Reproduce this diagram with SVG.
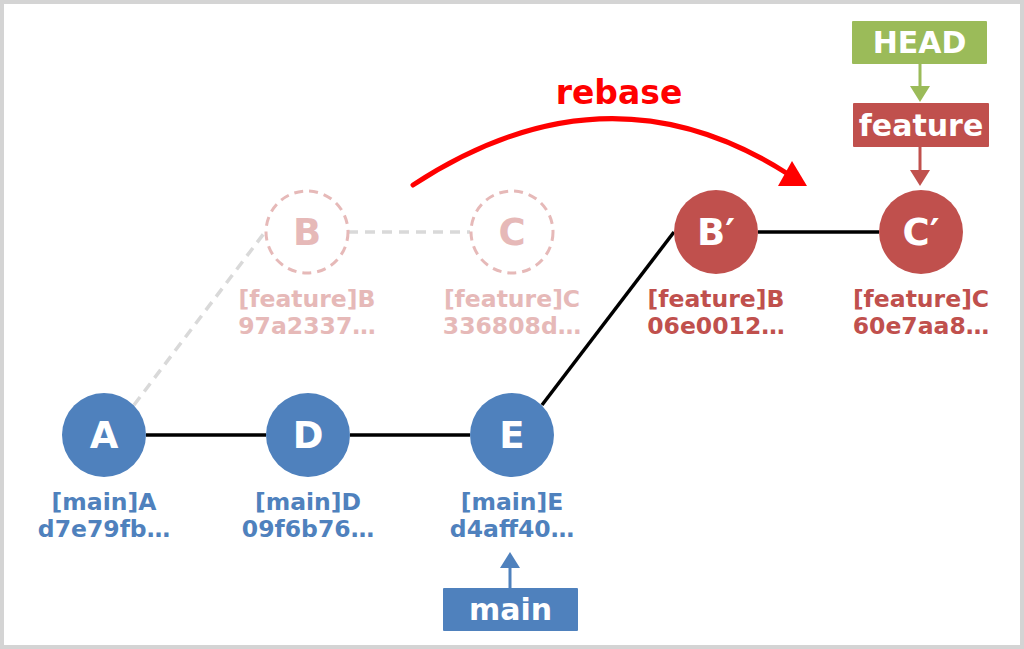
<svg xmlns="http://www.w3.org/2000/svg" width="1024" height="649" viewBox="0 0 1024 649">
<style>
text{font-family:"DejaVu Sans","Verdana",sans-serif;font-weight:bold;text-anchor:middle}
.lbl{font-size:23.5px}
.blue{fill:#4f81bd}
.red{fill:#c0504d}
.ghost{fill:#e6b9b8}
.nodeTxt{font-size:37px;fill:#fff}
.box{font-size:30px;fill:#fff}
.edge{stroke:#000;stroke-width:3.5;fill:none}
.gedge{stroke:#d9d9d9;stroke-width:3.5;fill:none;stroke-dasharray:10 7}
</style>
<rect x="2" y="2" width="1020" height="645" fill="#fff" stroke="#d4d4d4" stroke-width="4"/>
<g id="connectors">
<line class="gedge" x1="134" y1="405" x2="265" y2="232"/>
<line class="gedge" x1="348" y1="232" x2="470" y2="232"/>
<line class="edge" x1="146" y1="435" x2="266" y2="435"/>
<line class="edge" x1="350" y1="435" x2="470" y2="435"/>
<line class="edge" x1="542" y1="405" x2="674" y2="232"/>
<line class="edge" x1="758" y1="232" x2="879" y2="232"/>
<line x1="920" y1="64" x2="920" y2="88" stroke="#9bbb59" stroke-width="3"/>
<path d="M910,86 L930,86 L920,102 Z" fill="#9bbb59"/>
<line x1="920" y1="147" x2="920" y2="172" stroke="#c0504d" stroke-width="3"/>
<path d="M910,170 L930,170 L920,186 Z" fill="#c0504d"/>
<line x1="510" y1="588" x2="510" y2="565" stroke="#4f81bd" stroke-width="3"/>
<path d="M500,568 L520,568 L510,552 Z" fill="#4f81bd"/>
<path d="M413,185 Q607,58 788,174" stroke="#ff0000" stroke-width="5" fill="none" stroke-linecap="round"/>
<path d="M807,186 L778,186 L792,161 Z" fill="#ff0000"/>
</g>
<g id="rebase-label"><text x="619" y="104" style="font-size:33px;fill:#ff0000">rebase</text></g>
<g id="nodeA">
<circle cx="104" cy="435" r="42" fill="#4f81bd"/>
<text class="nodeTxt" x="104" y="448">A</text>
<text class="lbl blue" x="104" y="510">[main]A</text>
<text class="lbl blue" x="104" y="537">d7e79fb…</text>
</g>
<g id="nodeD">
<circle cx="308" cy="435" r="42" fill="#4f81bd"/>
<text class="nodeTxt" x="308" y="448">D</text>
<text class="lbl blue" x="308" y="510">[main]D</text>
<text class="lbl blue" x="308" y="537">09f6b76…</text>
</g>
<g id="nodeE">
<circle cx="512" cy="435" r="42" fill="#4f81bd"/>
<text class="nodeTxt" x="512" y="448">E</text>
<text class="lbl blue" x="512" y="510">[main]E</text>
<text class="lbl blue" x="512" y="537">d4aff40…</text>
</g>
<g id="nodeB">
<circle cx="307" cy="232" r="41" fill="#fff" stroke="#e6b9b8" stroke-width="3" stroke-dasharray="9 6"/>
<text class="ghost" x="307" y="245" style="font-size:37px">B</text>
<text class="lbl ghost" x="307" y="307">[feature]B</text>
<text class="lbl ghost" x="307" y="334">97a2337…</text>
</g>
<g id="nodeC">
<circle cx="512" cy="232" r="41" fill="#fff" stroke="#e6b9b8" stroke-width="3" stroke-dasharray="9 6"/>
<text class="ghost" x="512" y="245" style="font-size:37px">C</text>
<text class="lbl ghost" x="512" y="307">[feature]C</text>
<text class="lbl ghost" x="512" y="334">336808d…</text>
</g>
<g id="nodeB2">
<circle cx="716" cy="232" r="42" fill="#c0504d"/>
<text class="nodeTxt" x="716" y="245">B′</text>
<text class="lbl red" x="716" y="307">[feature]B</text>
<text class="lbl red" x="716" y="334">06e0012…</text>
</g>
<g id="nodeC2">
<circle cx="921" cy="232" r="42" fill="#c0504d"/>
<text class="nodeTxt" x="921" y="245">C′</text>
<text class="lbl red" x="921" y="307">[feature]C</text>
<text class="lbl red" x="921" y="334">60e7aa8…</text>
</g>
<g id="HEAD">
<rect x="852" y="21" width="135" height="43" fill="#9bbb59" rx="1"/>
<text class="box" x="919.5" y="53">HEAD</text>
</g>
<g id="feature">
<rect x="853" y="103" width="136" height="44" fill="#c0504d" rx="1"/>
<text class="box" x="921" y="136">feature</text>
</g>
<g id="main">
<rect x="443" y="588" width="135" height="43" fill="#4f81bd" rx="1"/>
<text class="box" x="510.5" y="620">main</text>
</g>
</svg>
